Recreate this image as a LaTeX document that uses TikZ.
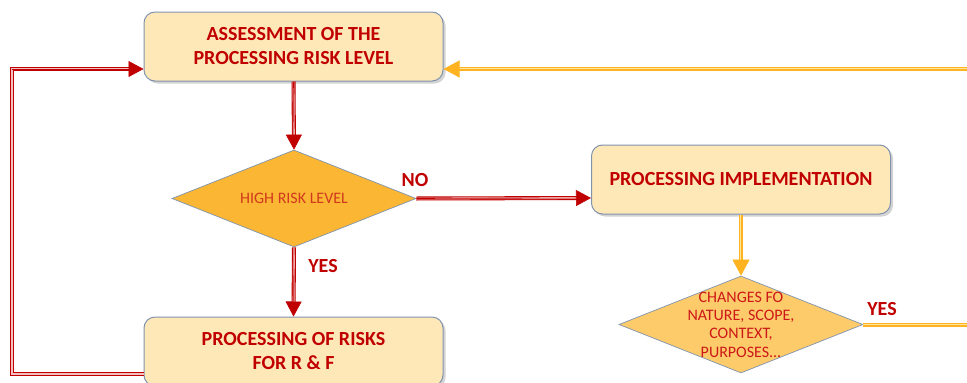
\documentclass[tikz,border=0pt]{standalone}
\usepackage{fontspec}
\setmainfont{Carlito}
\usetikzlibrary{arrows.meta,shapes.geometric,shadows,calc}
\definecolor{boxfill}{HTML}{FFE8B8}
\definecolor{boxdraw}{HTML}{8093AE}
\definecolor{dfillA}{HTML}{FBB733}
\definecolor{dfillB}{HTML}{FDCB6A}
\definecolor{txtred}{HTML}{C00000}
\definecolor{dtxt}{HTML}{D0381F}
\definecolor{dtxtB}{HTML}{CC1818}
\definecolor{lred}{HTML}{C00000}
\definecolor{lredin}{HTML}{F5C0C0}
\definecolor{lor}{HTML}{FFB320}
\definecolor{lorin}{HTML}{FFE6A0}
\begin{document}
\begin{tikzpicture}[x=1pt,y=-1pt,
  procbox/.style={draw=boxdraw, line width=1pt, fill=boxfill, rounded corners=11pt,
    minimum width=299pt, minimum height=69pt, align=center, text=txtred,
    font=\fontsize{20}{24}\selectfont\bfseries,
    drop shadow={shadow xshift=2.5pt, shadow yshift=-2.5pt, opacity=0.35}},
  decision/.style={diamond, draw=boxdraw, line width=0.7pt, minimum width=244pt,
    minimum height=97pt, inner sep=0pt},
  dlabel/.style={align=center, font=\fontsize{16}{18.3}\selectfont},
  ynlabel/.style={text=txtred, font=\fontsize{20}{22}\selectfont\bfseries},
  redline/.style={draw=lred, double=lredin, line width=1.1pt, double distance=1.8pt},
  redshort/.style={redline, shorten >=12pt},
  redtip/.style={draw=lred, line width=0.6pt, -{Triangle[length=15pt,width=16pt]}},
  orline/.style={draw=lor, double=lorin, line width=1.1pt, double distance=1.8pt},
  orshort/.style={orline, shorten >=12pt},
  ortip/.style={draw=lor, line width=0.6pt, -{Triangle[length=16pt,width=17pt]}}
]
\useasboundingbox (0,0) rectangle (967,383);

\node[procbox] (b1) at (293.5,46.5) {ASSESSMENT OF THE\\PROCESSING RISK LEVEL};
\node[decision, fill=dfillA, label={[dlabel, text=dtxt]center:HIGH RISK LEVEL}] (d1) at (294,198.5) {};
\node[procbox] (b2) at (741,179.5) {PROCESSING IMPLEMENTATION};
\node[decision, fill=dfillB, label={[dlabel, text=dtxtB]center:{CHANGES FO\\NATURE, SCOPE,\\CONTEXT,\\PURPOSES...}}] (d2) at (741,324.5) {};
\node[procbox] (b3) at (293.5,351.5) {PROCESSING OF RISKS\\FOR R \& F};

\coordinate (A) at ($(b3.west)+(0,22.5)$);
\coordinate (B) at ($(b1.west)+(0,22.5)$);
\coordinate (lc) at (12,0);
\coordinate (C) at ($(b1.east)+(0,22.5)$);
\coordinate (rtop) at (980,69);
\coordinate (rbot) at (980,324.5);
\coordinate (E) at ($(b2.west)+(0,18.5)$);

\draw[redshort] (b1.south) -- (d1.north);
\draw[redtip] (b1.south) -- (d1.north);
\draw[redshort] (d1.east) -- (E);
\draw[redtip] (d1.east) -- (E);
\draw[redshort] (d1.south) -- (b3.north);
\draw[redtip] (d1.south) -- (b3.north);
\draw[redshort] (A) -| (lc |- B) -- (B);
\draw[redtip] (lc |- B) -- (B);
\draw[orshort] (b2.south) -- (d2.north);
\draw[ortip] (b2.south) -- (d2.north);
\draw[orline] (d2.east) -- (rbot |- d2.east);
\draw[orshort] (rtop |- C) -- (C);
\draw[ortip] (rtop |- C) -- (C);

\node[ynlabel] (no) at (415,180) {NO};
\node[ynlabel] (yes1) at (323,266) {YES};
\node[ynlabel] (yes2) at (882,309) {YES};
\end{tikzpicture}
\end{document}
